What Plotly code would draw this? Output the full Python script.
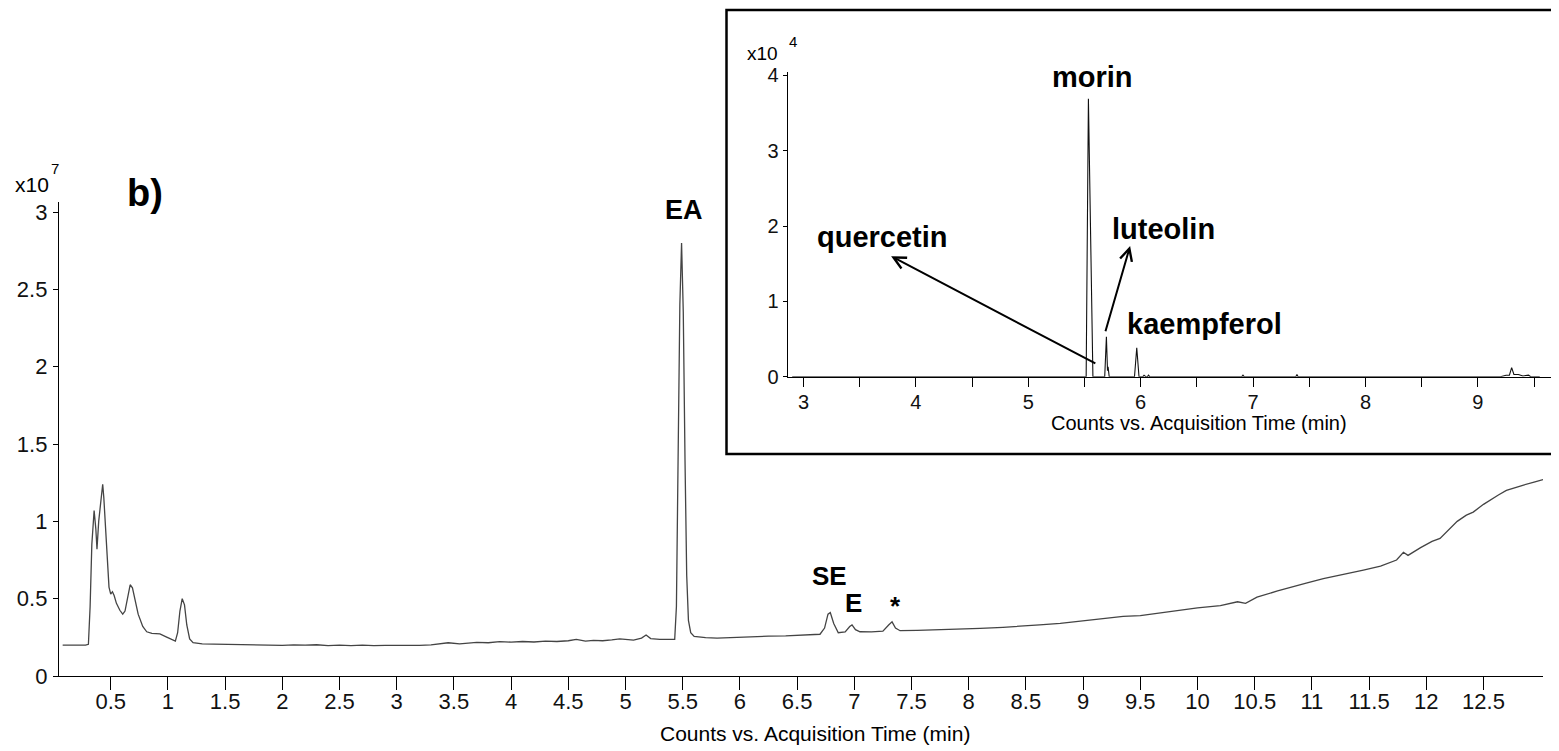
import plotly.graph_objects as go

W, H = 1559, 751
OFF = 8  # page offset of the plot div (default body margin)

# ---------------- data ----------------
main_time = [0.08, 0.15, 0.22, 0.28, 0.305, 0.32, 0.335, 0.355, 0.37, 0.38, 0.395, 0.42, 0.43, 0.44,
             0.455, 0.47, 0.485, 0.50, 0.515, 0.53, 0.55, 0.58, 0.605, 0.625, 0.645, 0.67, 0.69, 0.71,
             0.74, 0.78, 0.815, 0.86, 0.93, 0.98, 1.03, 1.065, 1.085, 1.105, 1.125, 1.145, 1.165, 1.19,
             1.22, 1.3, 1.4, 1.5, 1.6, 1.7, 1.8, 1.9, 2.0, 2.1, 2.2, 2.3, 2.4, 2.5, 2.6, 2.7, 2.8, 2.9,
             3.0, 3.1, 3.2, 3.3, 3.35, 3.45, 3.55, 3.62, 3.7, 3.8, 3.9, 4.0, 4.1, 4.2, 4.3, 4.4, 4.5,
             4.57, 4.65, 4.72, 4.8, 4.88, 4.95, 5.07, 5.14, 5.18, 5.22, 5.3, 5.43,
             5.445, 5.46, 5.475, 5.49, 5.505, 5.52, 5.535, 5.55, 5.57, 5.6, 5.7, 5.8, 5.95, 6.1, 6.25,
             6.4, 6.55, 6.7, 6.74, 6.77, 6.79, 6.82, 6.86, 6.92, 6.96, 6.98, 7.01, 7.05, 7.15, 7.25,
             7.30, 7.33, 7.36, 7.40, 7.55, 7.7, 7.9, 8.1, 8.3, 8.5, 8.62, 8.8, 9.0, 9.2, 9.35, 9.5,
             9.7, 9.9, 10.0, 10.2, 10.35, 10.42, 10.52, 10.7, 10.81, 10.95, 11.1, 11.3, 11.45, 11.6,
             11.74, 11.8, 11.84, 11.95, 12.05, 12.12, 12.2, 12.27, 12.35, 12.41, 12.5, 12.56, 12.63,
             12.70, 12.78, 12.85, 12.95, 13.02]
main_counts_e7 = [0.20, 0.198, 0.20, 0.199, 0.205, 0.45, 0.85, 1.07, 0.95, 0.82, 1.0, 1.18, 1.24, 1.15,
                  0.95, 0.70, 0.575, 0.53, 0.545, 0.52, 0.47, 0.425, 0.40, 0.42, 0.50, 0.59, 0.57, 0.50,
                  0.40, 0.32, 0.286, 0.276, 0.272, 0.255, 0.235, 0.225, 0.28, 0.42, 0.50, 0.46, 0.33, 0.24,
                  0.215, 0.208, 0.206, 0.205, 0.201, 0.204, 0.199, 0.202, 0.198, 0.201, 0.199, 0.202,
                  0.197, 0.200, 0.197, 0.199, 0.196, 0.198, 0.197, 0.200, 0.198, 0.201, 0.205, 0.215,
                  0.208, 0.214, 0.218, 0.215, 0.222, 0.219, 0.223, 0.220, 0.226, 0.223, 0.228, 0.237,
                  0.226, 0.231, 0.228, 0.233, 0.240, 0.232, 0.245, 0.265, 0.242, 0.237, 0.237,
                  0.45, 1.4, 2.4, 2.80, 2.35, 1.4, 0.65, 0.36, 0.28, 0.256, 0.248, 0.245, 0.25, 0.255, 0.258,
                  0.260, 0.263, 0.27, 0.31, 0.40, 0.41, 0.34, 0.28, 0.285, 0.32, 0.33, 0.30, 0.286, 0.285,
                  0.29, 0.33, 0.35, 0.31, 0.293, 0.295, 0.298, 0.30, 0.308, 0.315, 0.322, 0.33, 0.34, 0.355,
                  0.37, 0.385, 0.39, 0.41, 0.43, 0.44, 0.455, 0.48, 0.47, 0.51, 0.55, 0.57, 0.60, 0.63,
                  0.66, 0.685, 0.71, 0.75, 0.80, 0.78, 0.83, 0.87, 0.89, 0.95, 1.00, 1.04, 1.06, 1.11,
                  1.14, 1.17, 1.20, 1.22, 1.235, 1.255, 1.27]

inset_time = [2.9, 3.5, 4.2, 5.0, 5.515, 5.535, 5.575, 5.68, 5.695, 5.705, 5.71, 5.72, 5.945, 5.965,
              5.985, 6.02, 6.03, 6.045, 6.06, 6.07, 6.08, 6.9, 6.91, 6.92, 7.38, 7.39, 7.40, 8.0,
              9.2, 9.25, 9.28, 9.30, 9.32, 9.36, 9.40, 9.45, 9.47, 9.5, 9.55]
inset_counts_e4 = [0.0, 0.0, 0.0, 0.0, 0.0, 3.69, 0.0, 0.0, 0.53, 0.08, 0.13, 0.0, 0.0, 0.385,
                   0.0, 0.0, 0.02, 0.0, 0.0, 0.02, 0.0, 0.0, 0.02, 0.0, 0.0, 0.03, 0.0, 0.0,
                   0.0, 0.02, 0.02, 0.12, 0.03, 0.03, 0.01, 0.02, 0.0, 0.0, 0.0]

main_xticks = [0.5, 1, 1.5, 2, 2.5, 3, 3.5, 4, 4.5, 5, 5.5, 6, 6.5, 7, 7.5, 8, 8.5, 9, 9.5, 10,
               10.5, 11, 11.5, 12, 12.5]
main_xticklabels = ["0.5", "1", "1.5", "2", "2.5", "3", "3.5", "4", "4.5", "5", "5.5", "6", "6.5",
                    "7", "7.5", "8", "8.5", "9", "9.5", "10", "10.5", "11", "11.5", "12", "12.5"]
main_yticks = [0, 0.5, 1, 1.5, 2, 2.5, 3]
main_yticklabels = ["0", "0.5", "1", "1.5", "2", "2.5", "3"]
inset_xticks = [3, 3.5, 4, 4.5, 5, 5.5, 6, 6.5, 7, 7.5, 8, 8.5, 9, 9.5]
inset_xticklabels = ["3", "", "4", "", "5", "", "6", "", "7", "", "8", "", "9", ""]
inset_yticks = [0, 1, 2, 3, 4]
inset_yticklabels = ["0", "1", "2", "3", "4"]

FONT = "Arial, 'Liberation Sans', sans-serif"


def px(x):
    return (x - OFF) / W


def py(y):
    return 1 - (y - OFF) / H


fig = go.Figure()
fig.add_trace(go.Scatter(x=main_time, y=main_counts_e7, mode="lines",
                         line=dict(color="#444444", width=1.3), xaxis="x", yaxis="y",
                         showlegend=False, hoverinfo="skip"))
fig.add_trace(go.Scatter(x=inset_time, y=inset_counts_e4, mode="lines",
                         line=dict(color="#111111", width=1.1), xaxis="x2", yaxis="y2",
                         showlegend=False, hoverinfo="skip"))

axis_common = dict(showline=True, linecolor="black", showgrid=False, zeroline=False,
                   ticks="outside", tickcolor="black", tickmode="array", automargin=False)

fig.update_layout(
    width=W, height=H, autosize=False,
    margin=dict(l=0, r=0, t=0, b=0),
    paper_bgcolor="white", plot_bgcolor="white",
    xaxis=dict(**axis_common, domain=[px(59), px(1543)], range=[0.048, 13.02], anchor="y",
               tickvals=main_xticks, ticktext=main_xticklabels, ticklen=13, tickwidth=1.3,
               linewidth=1.4, ticklabelstandoff=-8,
               tickfont=dict(family=FONT, size=22, color="#111")),
    yaxis=dict(**axis_common, domain=[py(676), py(202)], range=[0, 3.065], anchor="x",
               tickvals=main_yticks, ticktext=main_yticklabels, ticklen=5, tickwidth=1.3,
               linewidth=1.4, ticklabelstandoff=1,
               tickfont=dict(family=FONT, size=22, color="#111")),
    xaxis2=dict(**axis_common, domain=[px(787.7), px(1551)], range=[2.86, 9.65], anchor="y2",
                tickvals=inset_xticks, ticktext=inset_xticklabels, ticklen=9, tickwidth=1.2,
                linewidth=1.2, ticklabelstandoff=-2,
                tickfont=dict(family=FONT, size=20, color="#111")),
    yaxis2=dict(**axis_common, domain=[py(376.7), py(71.7)], range=[0, 4.05], anchor="x2",
                tickvals=inset_yticks, ticktext=inset_yticklabels, ticklen=4, tickwidth=1.2,
                linewidth=1.2, tickfont=dict(family=FONT, size=20, color="#111")),
)

# inset frame
fig.add_shape(type="rect", xref="paper", yref="paper", x0=px(726.5), x1=px(1557.5),
              y0=py(454), y1=py(10), line=dict(color="black", width=2.5),
              fillcolor="white", layer="below")

annotations = []


def label(text, xc, yc, size, bold=True, xanchor="center"):
    annotations.append(dict(text=f"<b>{text}</b>" if bold else text, x=px(xc), y=py(yc),
                            xref="paper", yref="paper", showarrow=False, xanchor=xanchor,
                            yanchor="middle", font=dict(family=FONT, size=size, color="black")))


# main chart texts
label("b)", 145, 193, 38)
label("EA", 684, 210, 27)
label("SE", 829, 576, 26)
label("E", 853, 603, 26)
label("*", 895, 606, 26)
label("x10", 32, 184, 21, bold=False)
label("7", 55, 168, 15, bold=False)
label("Counts vs. Acquisition Time (min)", 815, 733, 21, bold=False)

# inset texts
label("morin", 1092, 77, 29)
label("quercetin", 882, 237, 29)
label("luteolin", 1163, 229, 29)
label("kaempferol", 1204, 324, 29)
label("x10", 762, 53, 19, bold=False)
label("4", 793, 41, 15, bold=False)
label("Counts vs. Acquisition Time (min)", 1199, 423, 20, bold=False)

# arrows in the inset
for tip, tail in [((3.78, 1.60), (5.61, 0.165)), ((5.906, 1.736), (5.683, 0.584))]:
    annotations.append(dict(x=tip[0], y=tip[1], ax=tail[0], ay=tail[1], xref="x2", yref="y2",
                            axref="x2", ayref="y2", text="", showarrow=True, arrowhead=5,
                            arrowsize=1.2, arrowwidth=2, arrowcolor="black", standoff=0,
                            startstandoff=0))

fig.update_layout(annotations=annotations)

fig.write_html("out.html")
